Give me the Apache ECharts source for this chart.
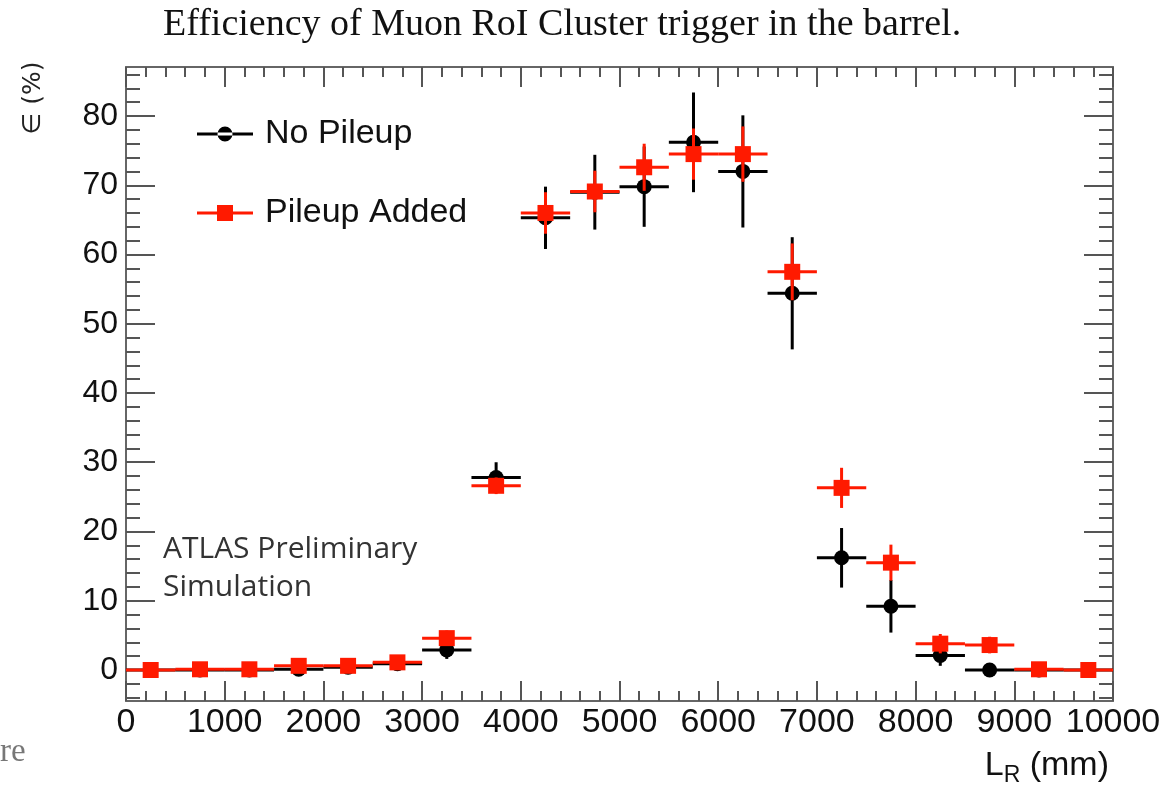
<!DOCTYPE html>
<html><head><meta charset="utf-8">
<script src="https://cdn.jsdelivr.net/npm/echarts@6/dist/echarts.min.js"></script>
<style>html,body{margin:0;padding:0;background:#fff}#c{width:1169px;height:788px}</style>
</head><body><div id="c"></div>
<script>
// ---- data ----
const binCenters = [250,750,1250,1750,2250,2750,3250,3750,4250,4750,5250,5750,6250,6750,7250,7750,8250,8750,9250,9750];
const binHalfWidth = 250;
const noPileup    = [0,0,0,0.1,0.4,0.9,2.9,27.8,65.3,69.0,69.8,76.2,72.0,54.4,16.2,9.2,2.1,0,0,0];
const noPileupErr = [0.3,0.3,0.3,0.5,0.6,0.8,1.3,2.2,4.5,5.4,5.8,7.2,8.1,8.1,4.3,3.8,1.5,0.5,0.3,0.3];
const pileupAdded = [0,0.1,0.1,0.6,0.6,1.1,4.6,26.6,66.0,69.1,72.6,74.5,74.5,57.5,26.3,15.5,3.8,3.6,0.1,0];
const pileupErr   = [0.2,0.2,0.2,0.4,0.5,0.7,1.1,1.2,3.0,3.0,3.4,3.7,4.0,4.1,2.9,2.6,1.4,1.2,0.2,0.2];
const yMajorTicks = [0,10,20,30,40,50,60,70,80];
const yMinorTicks = [-4,-2,2,4,6,8,12,14,16,18,22,24,26,28,32,34,36,38,42,44,46,48,52,54,56,58,62,64,66,68,72,74,76,78,82,84,86];
const xMajorTicks = [0,1000,2000,3000,4000,5000,6000,7000,8000,9000,10000];
const xMinorTicks = [];
for (let k = 0; k < 10000; k += 200) { if (k % 1000 !== 0) xMinorTicks.push(k); }

const BLACK = '#000000', RED = '#ff1a00';
const FONT = 'Liberation Sans';
const Y_MIN = -4.48, Y_MAX = 87.08;

function toData(vals, errs) { return binCenters.map((c, i) => [c, vals[i], errs[i]]); }

function errRender(color) {
  return function (params, api) {
    const x = api.value(0), y = api.value(1), e = api.value(2);
    const pL = api.coord([x - binHalfWidth, y]);
    const pR = api.coord([x + binHalfWidth, y]);
    const pT = api.coord([x, y + e]);
    const pB = api.coord([x, y - e]);
    return { type: 'group', children: [
      { type: 'line', shape: { x1: pL[0], y1: pL[1], x2: pR[0], y2: pR[1] }, style: { stroke: color, lineWidth: 3 } },
      { type: 'line', shape: { x1: pT[0], y1: pT[1], x2: pB[0], y2: pB[1] }, style: { stroke: color, lineWidth: 3 } }
    ]};
  };
}

const tickColor = '#555';
const plain = v => String(v);
function xAx(pos, ticks, len, showLine, showLabel) {
  return {
    type: 'value', position: pos, min: 0, max: 10000, interval: 1000,
    axisLine: { show: showLine, onZero: false, lineStyle: { color: '#666', width: 2 } },
    axisTick: { show: true, inside: true, length: len, customValues: ticks, lineStyle: { color: tickColor, width: 2 } },
    axisLabel: showLabel ? { show: true, customValues: xMajorTicks, formatter: plain, fontSize: 34, fontFamily: FONT, color: '#111', margin: 5 } : { show: false },
    splitLine: { show: false }
  };
}
function yAx(pos, ticks, len, showLine, showLabel) {
  return {
    type: 'value', position: pos, min: Y_MIN, max: Y_MAX,
    axisLine: { show: showLine, onZero: false, lineStyle: { color: '#666', width: 2 } },
    axisTick: { show: true, inside: true, length: len, customValues: ticks, lineStyle: { color: tickColor, width: 2 } },
    axisLabel: showLabel ? { show: true, customValues: yMajorTicks, formatter: plain, fontSize: 32, fontFamily: FONT, color: '#111', margin: 8 } : { show: false },
    splitLine: { show: false }
  };
}

const chart = echarts.init(document.getElementById('c'), null, { renderer: 'canvas' });
chart.setOption({
  animation: false,
  backgroundColor: '#fff',
  title: {
    text: 'Efficiency of Muon RoI Cluster trigger in the barrel.',
    left: 158, top: 1,
    textStyle: { fontFamily: 'Liberation Serif', fontSize: 38, fontWeight: 'normal', color: '#111' }
  },
  grid: { left: 126, right: 56, top: 67, bottom: 87, containLabel: false },
  xAxis: [
    xAx('bottom', xMajorTicks, 20, true, true),
    xAx('bottom', xMinorTicks, 10, false, false),
    xAx('top', xMajorTicks, 20, true, false),
    xAx('top', xMinorTicks, 10, false, false)
  ],
  yAxis: [
    yAx('left', yMajorTicks, 29, true, true),
    yAx('left', yMinorTicks, 14, false, false),
    yAx('right', yMajorTicks, 29, true, false),
    yAx('right', yMinorTicks, 14, false, false)
  ],
  legend: {
    orient: 'vertical', left: 192, top: 112,
    itemWidth: 56, itemHeight: 16, itemGap: 45,
    textStyle: { fontSize: 34, fontFamily: FONT, color: '#111', padding: [0, 0, 0, 7] },
    data: [
      { name: 'No Pileup', icon: 'path://M0,6.5L56,6.5L56,9.5L0,9.5Z M20.5,8A7.5,7.5 0 1 0 35.5,8A7.5,7.5 0 1 0 20.5,8Z' },
      { name: 'Pileup Added', icon: 'path://M0,6.5L56,6.5L56,9.5L0,9.5Z M20,0L36,0L36,16L20,16Z' }
    ]
  },
  series: [
    { name: 'No Pileup err', type: 'custom', xAxisIndex: 0, yAxisIndex: 0, renderItem: errRender(BLACK), data: toData(noPileup, noPileupErr), z: 2 },
    { name: 'No Pileup', type: 'scatter', xAxisIndex: 0, yAxisIndex: 0, symbol: 'circle', symbolSize: 15, itemStyle: { color: BLACK, opacity: 1 }, data: binCenters.map((c, i) => [c, noPileup[i]]), z: 3 },
    { name: 'Pileup Added err', type: 'custom', xAxisIndex: 0, yAxisIndex: 0, renderItem: errRender(RED), data: toData(pileupAdded, pileupErr), z: 4 },
    { name: 'Pileup Added', type: 'scatter', xAxisIndex: 0, yAxisIndex: 0, symbol: 'rect', symbolSize: 16, itemStyle: { color: RED, opacity: 1 }, data: binCenters.map((c, i) => [c, pileupAdded[i]]), z: 5 }
  ],
  graphic: [
    { type: 'text', x: 33, y: 98, rotation: Math.PI / 2, style: { text: '∈ (%)', font: '25px "DejaVu Sans"', fill: '#222', align: 'center', verticalAlign: 'middle' } },
    { type: 'text', right: 60, top: 749, style: { rich: { a: { fontSize: 34, fontFamily: FONT, fill: '#111' }, s: { fontSize: 23, fontFamily: FONT, fill: '#111', padding: [19, 0, 0, 0] } }, text: '{a|L}{s|R}{a| (mm)}' } },
    { type: 'text', left: 163, top: 534, style: { text: 'ATLAS Preliminary', font: '30px "Open Sans"', fill: '#333' } },
    { type: 'text', left: 163, top: 572, style: { text: 'Simulation', font: '30px "Open Sans"', fill: '#333' } },
    { type: 'text', left: 0, top: 736, style: { text: 're', font: '33px "Liberation Serif"', fill: '#777' } }
  ]
});
</script></body></html>
